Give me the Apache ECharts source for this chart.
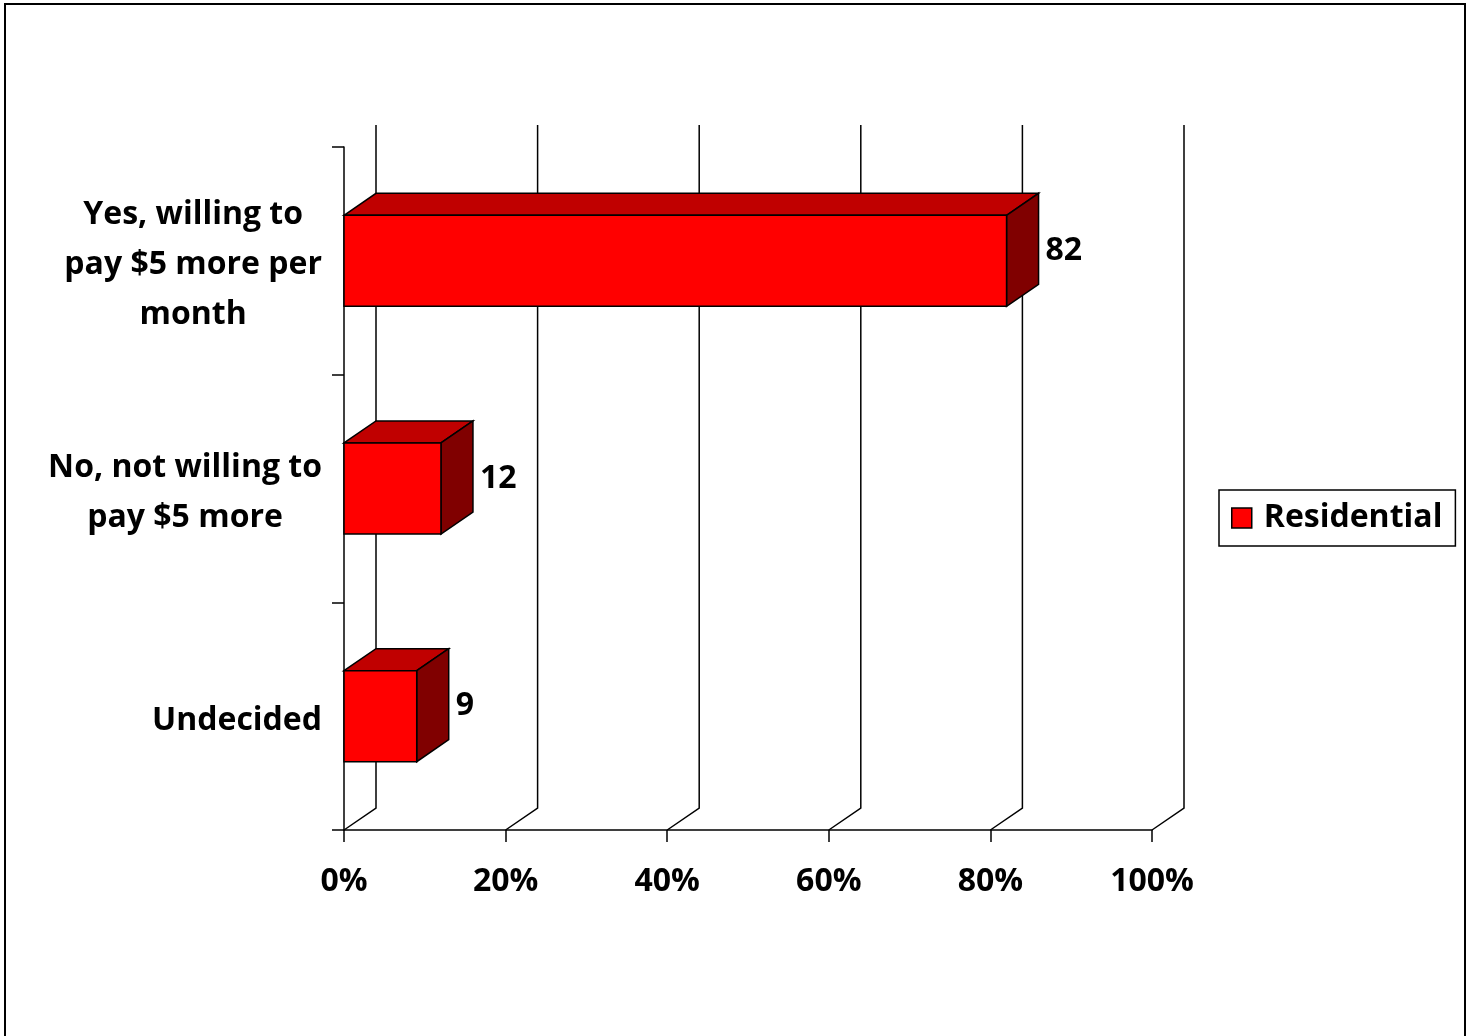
<!DOCTYPE html>
<html>
<head>
<meta charset="utf-8">
<style>
  html, body { margin: 0; padding: 0; background: #fff; }
  #chart { width: 1473px; height: 1036px; }
</style>
<script src="https://cdn.jsdelivr.net/npm/echarts@6/dist/echarts.min.js"></script>
</head>
<body>
<div id="chart"></div>
<script>
// Survey answers, top to bottom
const categories = [
  'Yes, willing to\npay $5 more per\nmonth',
  'No, not willing to\npay $5 more',
  'Undecided'
];
// Share of residential respondents (%)
const residential = [82, 12, 9];
// Gridline positions on the percentage axis
const gridValues = [0, 20, 40, 60, 80, 100];

const FONT = '"Open Sans", "Lato", sans-serif';
const FONT_SIZE = 32;
const DEPTH_X = 32;   // 3D depth offset
const DEPTH_Y = -22;

const chart = echarts.init(document.getElementById('chart'), null, { renderer: 'canvas' });

// Back-wall gridlines: front floor point -> back floor -> up the back wall
function renderGrid(params, api) {
  const cs = params.coordSys;
  const x = api.coord([api.value(0), 0])[0];
  const bottom = cs.y + cs.height;
  const top = cs.y;
  return {
    type: 'polyline',
    shape: {
      points: [
        [x, bottom],
        [x + DEPTH_X, bottom + DEPTH_Y],
        [x + DEPTH_X, top + DEPTH_Y]
      ]
    },
    style: { stroke: '#000', lineWidth: 1.5, fill: null }
  };
}

// 3D box bar: front, top and right faces plus value label
function renderBar(params, api) {
  const v = api.value(0);
  const start = api.coord([0, api.value(1)]);
  const end = api.coord([v, api.value(1)]);
  const band = api.size([0, 1])[1];
  const h = band * 0.4;
  const x0 = start[0], x1 = end[0];
  const yT = end[1] - h / 2, yB = end[1] + h / 2;
  const dx = DEPTH_X, dy = DEPTH_Y;
  const stroke = { stroke: '#000', lineWidth: 1.5 };
  return {
    type: 'group',
    children: [
      {
        type: 'polygon',
        shape: { points: [[x0, yT], [x0 + dx, yT + dy], [x1 + dx, yT + dy], [x1, yT]] },
        style: Object.assign({ fill: '#C00000' }, stroke)
      },
      {
        type: 'polygon',
        shape: { points: [[x1, yT], [x1 + dx, yT + dy], [x1 + dx, yB + dy], [x1, yB]] },
        style: Object.assign({ fill: '#800000' }, stroke)
      },
      {
        type: 'rect',
        shape: { x: x0, y: yT, width: x1 - x0, height: yB - yT },
        style: Object.assign({ fill: '#FF0000' }, stroke)
      },
      {
        type: 'text',
        style: {
          text: String(v),
          x: x1 + dx + 7,
          y: end[1] + dy / 2 + 1,
          fill: '#000',
          font: 'bold ' + FONT_SIZE + 'px ' + FONT,
          align: 'left',
          verticalAlign: 'middle'
        }
      }
    ]
  };
}

const option = {
  animation: false,
  backgroundColor: '#fff',
  graphic: [{
    type: 'rect',
    shape: { x: 5, y: 4, width: 1460, height: 1040 },
    style: { fill: null, stroke: '#000', lineWidth: 2 },
    silent: true
  }],
  legend: {
    data: ['Residential'],
    left: 1219,
    top: 490,
    orient: 'vertical',
    padding: [12, 13, 12, 12],
    borderColor: '#000',
    borderWidth: 1.5,
    backgroundColor: '#fff',
    icon: 'rect',
    itemWidth: 20,
    itemHeight: 20,
    itemStyle: { color: '#FF0000', borderColor: '#000', borderWidth: 1.5 },
    textStyle: {
      fontFamily: FONT, fontWeight: 'bold', fontSize: FONT_SIZE, color: '#000',
      padding: [0, 0, 0, 7]
    }
  },
  grid: { left: 344, right: 321, top: 147, bottom: 206, containLabel: false },
  xAxis: {
    type: 'value',
    min: 0,
    max: 100,
    interval: 20,
    axisLine: { show: true, lineStyle: { color: '#000', width: 1.5 } },
    axisTick: { show: true, length: 12, lineStyle: { color: '#000', width: 1.5 } },
    splitLine: { show: false },
    axisLabel: {
      formatter: '{value}%',
      margin: 36,
      color: '#000',
      fontFamily: FONT,
      fontWeight: 'bold',
      fontSize: FONT_SIZE
    }
  },
  yAxis: {
    type: 'category',
    inverse: true,
    data: categories,
    axisLine: { show: true, lineStyle: { color: '#000', width: 1.5 } },
    axisTick: { show: true, length: 12, lineStyle: { color: '#000', width: 1.5 } },
    splitLine: { show: false },
    axisLabel: {
      margin: 22,
      align: 'right',
      padding: [9, 0, 0, 0],
      formatter: function (value) {
        return value.split('\n').map(function (l) { return '{c|' + l + '}'; }).join('\n');
      },
      rich: {
        c: {
          align: 'center',
          color: '#000',
          fontFamily: FONT,
          fontWeight: 'bold',
          fontSize: FONT_SIZE,
          lineHeight: 50
        }
      }
    }
  },
  series: [
    {
      name: 'grid',
      type: 'custom',
      silent: true,
      z: 1,
      renderItem: renderGrid,
      encode: { x: 0 },
      data: gridValues.map(function (v) { return [v, 0]; })
    },
    {
      name: 'Residential',
      type: 'custom',
      z: 3,
      itemStyle: { color: '#FF0000' },
      renderItem: renderBar,
      encode: { x: 0, y: 1 },
      data: residential.map(function (v, i) { return [v, i]; })
    }
  ]
};

chart.setOption(option);
</script>
</body>
</html>
